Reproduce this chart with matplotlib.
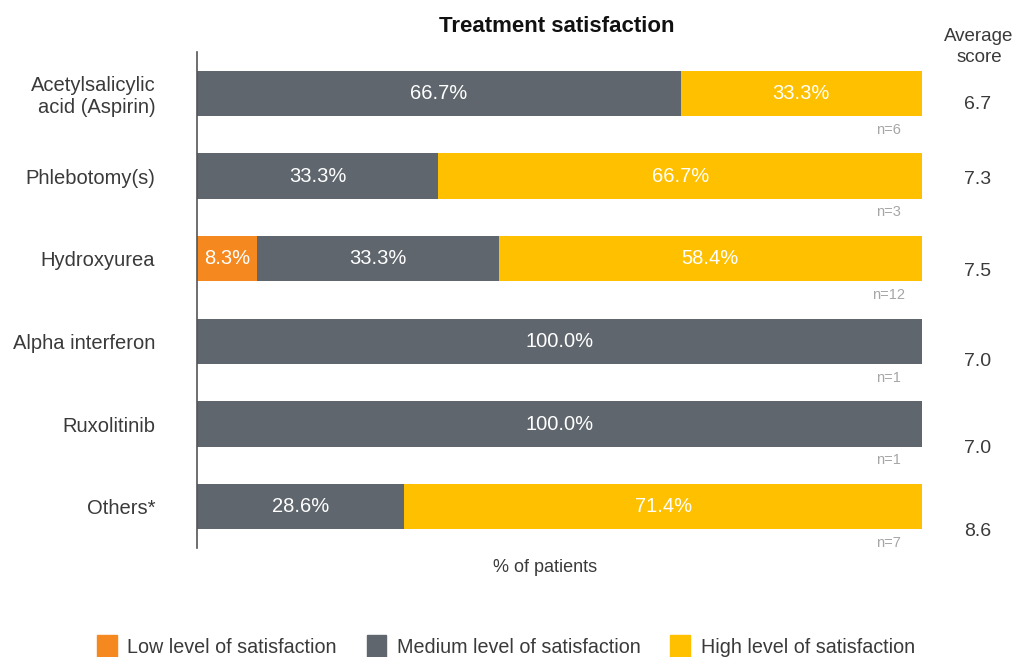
import numpy as np
import matplotlib.pyplot as plt
from matplotlib.patches import Patch

plt.rcParams['font.family'] = ['Liberation Sans', 'DejaVu Sans']

treatments = ['Acetylsalicylic\nacid (Aspirin)', 'Phlebotomy(s)', 'Hydroxyurea',
              'Alpha interferon', 'Ruxolitinib', 'Others*']
low = [0, 0, 8.3, 0, 0, 0]
medium = [66.7, 33.3, 33.3, 100.0, 100.0, 28.6]
high = [33.3, 66.7, 58.4, 0, 0, 71.4]
n_patients = [6, 3, 12, 1, 1, 7]
avg_score = [6.7, 7.3, 7.5, 7.0, 7.0, 8.6]
# vertical offset of the score text relative to each row (as in original layout)
score_offset = [0.14, 0.04, 0.16, 0.25, 0.3, 0.3]

c_low = '#f5891f'
c_med = '#5f666d'
c_high = '#ffc000'
txt = '#3a3a3a'

fig = plt.figure(figsize=(10.17, 6.57), dpi=100)
W, H = 1017, 657
ax = fig.add_axes([197 / W, 1 - 548 / H, (922 - 197) / W, (548 - 52) / H])

y = np.arange(len(treatments))
low = np.array(low)
medium = np.array(medium)
high = np.array(high)
bh = 0.545
ax.barh(y, low, height=bh, color=c_low)
ax.barh(y, medium, left=low, height=bh, color=c_med)
ax.barh(y, high, left=low + medium, height=bh, color=c_high)

for i in range(len(y)):
    lefts = [0, low[i], low[i] + medium[i]]
    for v, l in zip([low[i], medium[i], high[i]], lefts):
        if v > 0:
            ax.text(l + v / 2, y[i], '%.1f%%' % v, color='white', ha='center',
                    va='center', fontsize=14.5)
    ax.text(95.4, y[i] + 0.44, 'n=%d' % n_patients[i], color='#a6a6a6',
            ha='center', va='center', fontsize=10.5)
    ax.text(107.7, y[i] + score_offset[i], '%.1f' % avg_score[i], color=txt,
            ha='center', va='center', fontsize=14, clip_on=False)

ax.set_xlim(0, 100)
ax.set_ylim(5.5, -0.5)
ax.set_yticks(y)
ax.set_yticklabels(treatments, fontsize=14.5, color=txt, multialignment='right')
ax.tick_params(axis='y', length=0, pad=30)
ax.set_xticks([])
for s in ['top', 'right', 'bottom']:
    ax.spines[s].set_visible(False)
ax.spines['left'].set_color('#555555')
ax.spines['left'].set_linewidth(1.2)

fig.text(557 / W, 1 - 27 / H, 'Treatment satisfaction', ha='center', va='center',
         fontsize=16, fontweight='bold', color='#111111')
fig.text(979 / W, 1 - 47 / H, 'Average\nscore', ha='center', va='center',
         fontsize=13.5, color=txt, linespacing=1.3)
fig.text(545 / W, 1 - 568 / H, '% of patients', ha='center', va='center',
         fontsize=13, color=txt)

handles = [Patch(color=c_low), Patch(color=c_med), Patch(color=c_high)]
labels = ['Low level of satisfaction', 'Medium level of satisfaction',
          'High level of satisfaction']
fig.legend(handles, labels, loc='center', bbox_to_anchor=(506 / W, 1 - 646 / H),
           ncol=3, frameon=False, fontsize=14.2, handlelength=1.0, handleheight=1.3,
           handletextpad=0.55, columnspacing=1.5, labelcolor=txt)

fig.savefig('out.png', dpi=100)
